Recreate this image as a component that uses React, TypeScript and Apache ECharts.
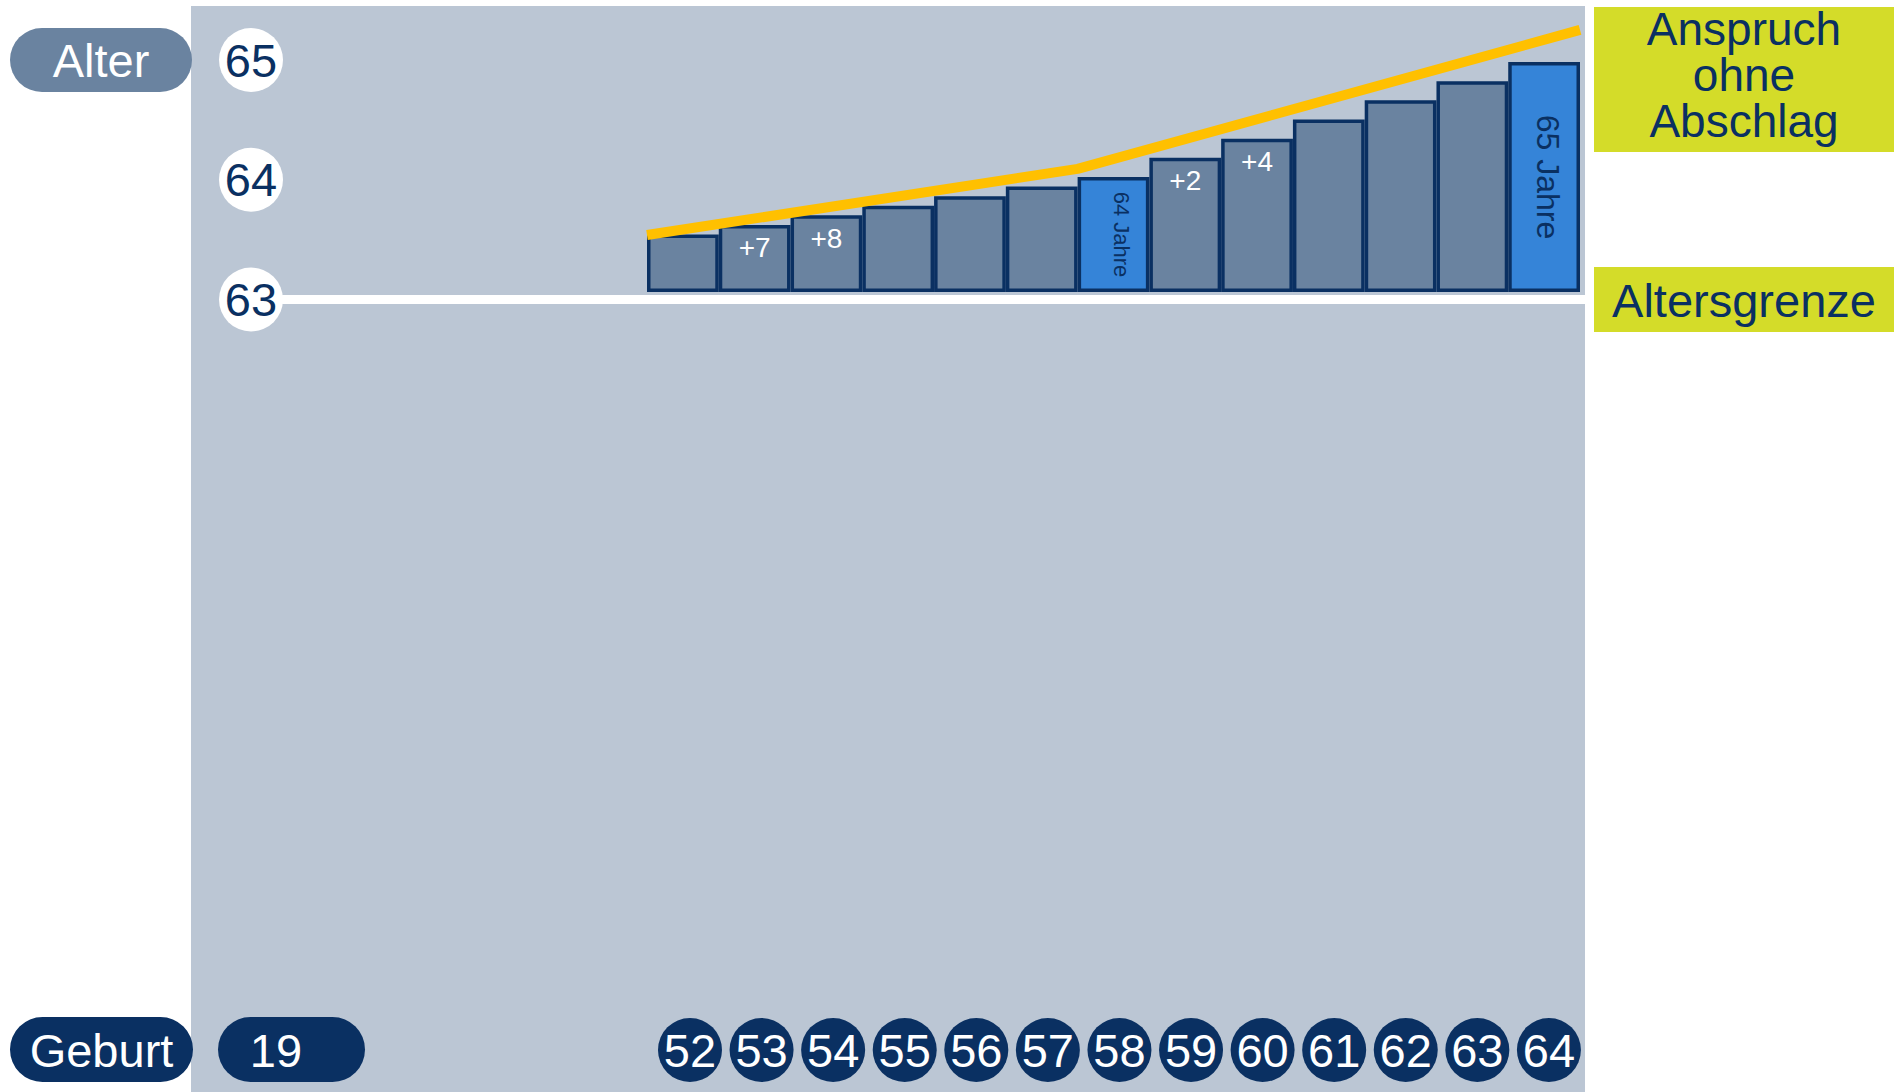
import React, { useEffect, useRef } from "react";
import * as echarts from "echarts";

// ---- data ----
const birthYears = ["52", "53", "54", "55", "56", "57", "58", "59", "60", "61", "62", "63", "64"];
const monthsOver63 = [6, 7, 8, 9, 10, 11, 12, 14, 16, 18, 20, 22, 24];
const barLabels = ["", "+7", "+8", "", "", "", "64 Jahre", "+2", "+4", "", "", "", "65 Jahre"];
const highlightedYears = ["58", "64"];
const ageTicks = [63, 64, 65];
const noDeductionLine: [number, number][] = [
  [-0.5, 5.95],
  [5.5, 12.85],
  [12.5, 27.35],
];

const NAVY = "#0A3062";
const BAR = "#6A83A0";
const BLUE = "#3584D8";
const PANEL = "#BBC6D4";
const LIME = "#D4DC29";
const YELLOW = "#FFC000";
const FONT = "'Liberation Sans', Arial, Helvetica, sans-serif";

export default function App() {
  const ref = useRef<HTMLDivElement>(null);

  useEffect(() => {
    if (!ref.current) return;
    const chart = echarts.init(ref.current, null, { renderer: "svg" });

    const barData = monthsOver63.map((m, i) => {
      const year = birthYears[i];
      const lbl = barLabels[i];
      const isHi = highlightedYears.includes(year);
      let label: any = { show: false };
      if (lbl && lbl.includes("Jahre")) {
        const big = year === "64";
        label = {
          show: true,
          formatter: lbl,
          rotate: -90,
          position: big ? ["55%", "50%"] : ["61%", "50%"],
          align: "center",
          verticalAlign: "middle",
          color: NAVY,
          fontSize: big ? 32 : 22,
          fontFamily: FONT,
        };
      } else if (lbl) {
        label = {
          show: true,
          formatter: lbl,
          position: "insideTop",
          distance: 9,
          color: "#fff",
          fontSize: 28,
          fontFamily: FONT,
        };
      }
      return {
        value: m,
        itemStyle: { color: isHi ? BLUE : BAR },
        label,
      };
    });

    const option: any = {
      animation: false,
      backgroundColor: "#fff",
      grid: [
        { left: 647, top: 62, width: 933, height: 230 },
        { left: 283, top: 60, width: 1302, height: 239.5 },
        { left: 654.2, top: 900, width: 930.5, height: 118 },
      ],
      xAxis: [
        { gridIndex: 0, type: "category", data: birthYears, show: false },
        { gridIndex: 0, type: "value", min: -0.5, max: 12.5, show: false },
        {
          gridIndex: 1,
          type: "value",
          min: 0,
          max: 1,
          axisLine: { show: true, onZero: false, lineStyle: { color: "#fff", width: 9 } },
          axisTick: { show: false },
          axisLabel: { show: false },
          splitLine: { show: false },
        },
        {
          gridIndex: 2,
          type: "category",
          data: birthYears,
          axisLine: { show: false },
          axisTick: { show: false },
          splitLine: { show: false },
          axisLabel: {
            interval: 0,
            margin: 0,
            formatter: (v: string) => `{c|${v}}`,
            rich: {
              c: {
                width: 64,
                height: 64,
                lineHeight: 64,
                borderRadius: 32,
                backgroundColor: NAVY,
                color: "#fff",
                fontSize: 47,
                fontFamily: FONT,
                align: "center",
                verticalAlign: "middle",
              },
            },
          },
        },
      ],
      yAxis: [
        { gridIndex: 0, type: "value", min: 0, max: 24, show: false },
        {
          gridIndex: 1,
          type: "value",
          min: ageTicks[0],
          max: ageTicks[ageTicks.length - 1],
          interval: 1,
          axisLine: { show: false },
          axisTick: { show: false },
          splitLine: { show: false },
          axisLabel: {
            margin: 0,
            formatter: (v: number) => `{c|${v}}`,
            rich: {
              c: {
                width: 64,
                height: 64,
                lineHeight: 64,
                borderRadius: 32,
                backgroundColor: "#fff",
                color: NAVY,
                fontSize: 47,
                fontFamily: FONT,
                align: "center",
                verticalAlign: "middle",
              },
            },
          },
        },
        { gridIndex: 2, type: "value", show: false },
      ],
      series: [
        {
          type: "bar",
          xAxisIndex: 0,
          yAxisIndex: 0,
          data: barData,
          barCategoryGap: "0%",
          barWidth: "100%",
          itemStyle: { borderColor: NAVY, borderWidth: 3.5 },
          z: 3,
        },
        {
          type: "line",
          xAxisIndex: 1,
          yAxisIndex: 0,
          data: noDeductionLine,
          symbol: "none",
          showSymbol: false,
          clip: false,
          lineStyle: { color: YELLOW, width: 10, cap: "butt" },
          z: 5,
        },
      ],
      graphic: [
        {
          type: "rect",
          z: -100,
          shape: { x: 191, y: 6, width: 1394, height: 1086 },
          style: { fill: PANEL },
          silent: true,
        },
        {
          type: "rect",
          shape: { x: 10, y: 28, width: 182, height: 64, r: 32 },
          style: { fill: BAR },
        },
        {
          type: "text",
          style: { text: "Alter", x: 101, y: 60, fill: "#fff", fontSize: 47, fontFamily: FONT, align: "center", verticalAlign: "middle" },
        },
        {
          type: "rect",
          shape: { x: 10, y: 1017, width: 183, height: 65, r: 32.5 },
          style: { fill: NAVY },
        },
        {
          type: "text",
          style: { text: "Geburt", x: 101.5, y: 1050, fill: "#fff", fontSize: 47, fontFamily: FONT, align: "center", verticalAlign: "middle" },
        },
        {
          type: "rect",
          shape: { x: 218, y: 1017, width: 147, height: 65, r: 32.5 },
          style: { fill: NAVY },
        },
        {
          type: "text",
          style: { text: "19", x: 276, y: 1050, fill: "#fff", fontSize: 47, fontFamily: FONT, align: "center", verticalAlign: "middle" },
        },
        {
          type: "rect",
          shape: { x: 1594, y: 7, width: 300, height: 145 },
          style: { fill: LIME },
        },
        {
          type: "text",
          style: {
            text: "Anspruch\nohne\nAbschlag",
            x: 1744,
            y: 75,
            fill: NAVY,
            fontSize: 46,
            lineHeight: 46,
            fontFamily: FONT,
            align: "center",
            verticalAlign: "middle",
          },
        },
        {
          type: "rect",
          shape: { x: 1594, y: 267, width: 300, height: 65 },
          style: { fill: LIME },
        },
        {
          type: "text",
          style: { text: "Altersgrenze", x: 1744, y: 300, fill: NAVY, fontSize: 47, fontFamily: FONT, align: "center", verticalAlign: "middle" },
        },
      ],
    };

    chart.setOption(option);
    return () => chart.dispose();
  }, []);

  return (
    <div
      ref={ref}
      style={{ position: "fixed", left: 0, top: 0, width: 1898, height: 1092 }}
    />
  );
}
